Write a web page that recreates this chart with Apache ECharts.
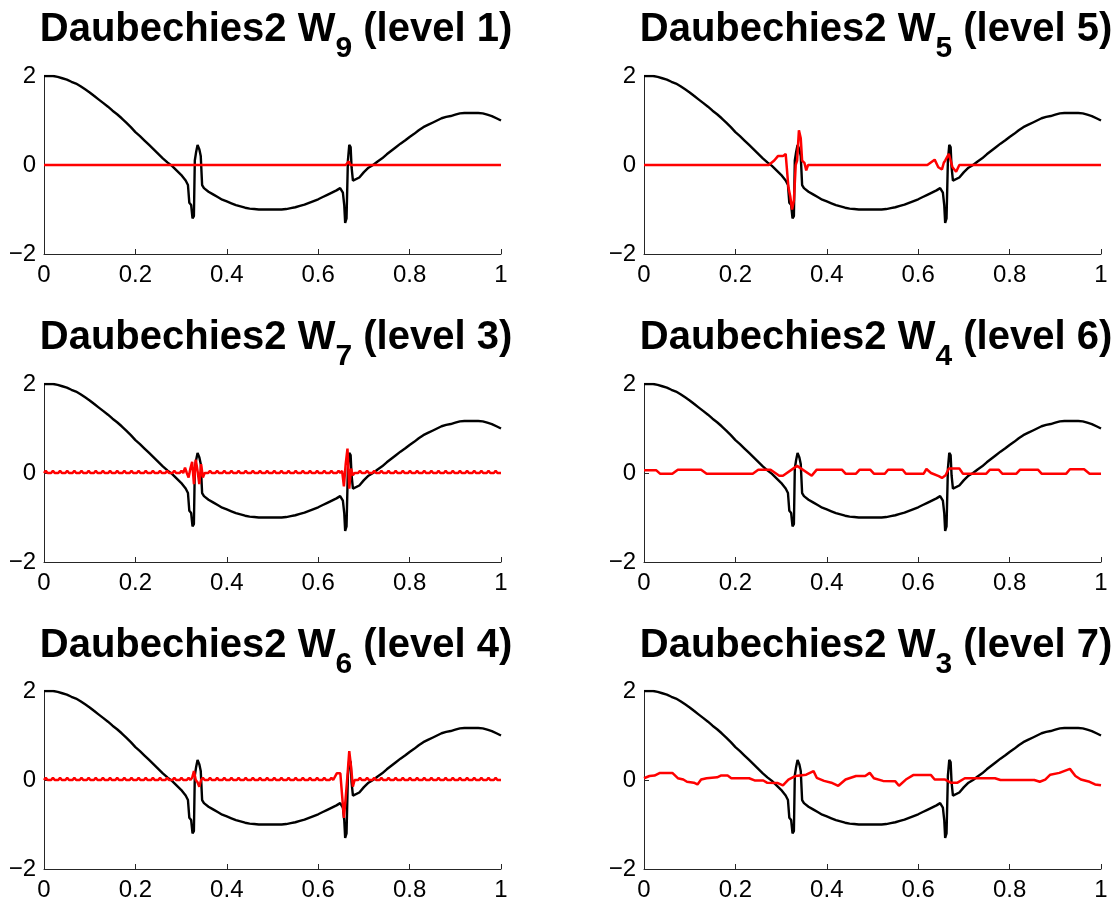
<!DOCTYPE html>
<html>
<head>
<meta charset="utf-8">
<script src="https://cdn.jsdelivr.net/npm/echarts@6/dist/echarts.min.js"></script>
<style>
  html, body { margin: 0; padding: 0; background: #fff; }
  #chart { width: 1120px; height: 905px; }
</style>
</head>
<body>
<div id="chart"></div>
<script>
// Test signal: smooth wave with two jumps near x = 1/3 and x = 2/3, [x, y]
const signal = [
  [0, 2.0], [0.01, 2.0], [0.02, 2.0], [0.03, 1.98], [0.04, 1.95], [0.05, 1.92],
  [0.06, 1.87], [0.07, 1.83], [0.08, 1.77], [0.09, 1.70], [0.10, 1.63], [0.11, 1.55],
  [0.12, 1.47], [0.13, 1.39], [0.14, 1.31], [0.15, 1.22], [0.16, 1.14], [0.17, 1.05],
  [0.18, 0.95], [0.19, 0.85], [0.20, 0.74], [0.21, 0.65], [0.22, 0.55], [0.23, 0.45],
  [0.24, 0.35], [0.25, 0.25], [0.26, 0.15], [0.27, 0.06], [0.28, -0.02], [0.29, -0.12],
  [0.30, -0.22], [0.31, -0.35], [0.315, -0.45], [0.318, -0.85], [0.322, -0.9],
  [0.325, -1.2], [0.328, -1.15], [0.330, 0.1], [0.333, 0.3], [0.336, 0.45],
  [0.340, 0.35], [0.343, 0.2], [0.346, -0.45], [0.35, -0.52], [0.36, -0.6],
  [0.37, -0.66], [0.38, -0.72], [0.39, -0.78], [0.40, -0.82], [0.41, -0.86],
  [0.42, -0.9], [0.43, -0.93], [0.44, -0.96], [0.45, -0.98], [0.46, -0.99],
  [0.47, -1.0], [0.48, -1.0], [0.50, -1.0], [0.52, -1.0], [0.53, -0.99], [0.54, -0.97],
  [0.55, -0.95], [0.56, -0.92], [0.57, -0.89], [0.58, -0.85], [0.59, -0.81],
  [0.60, -0.77], [0.61, -0.72], [0.62, -0.67], [0.63, -0.62], [0.64, -0.57],
  [0.648, -0.52], [0.654, -0.62], [0.657, -0.9], [0.659, -1.3], [0.662, -1.2],
  [0.665, 0.1], [0.668, 0.45], [0.671, 0.4], [0.673, -0.05], [0.676, -0.35],
  [0.68, -0.34], [0.69, -0.28], [0.70, -0.16], [0.71, -0.06], [0.72, 0.0],
  [0.73, 0.08], [0.74, 0.15], [0.75, 0.24], [0.76, 0.32], [0.77, 0.4], [0.78, 0.48],
  [0.79, 0.55], [0.80, 0.63], [0.81, 0.7], [0.82, 0.78], [0.83, 0.85], [0.84, 0.9],
  [0.85, 0.95], [0.86, 1.0], [0.87, 1.05], [0.88, 1.08], [0.89, 1.1], [0.90, 1.13],
  [0.91, 1.16], [0.92, 1.17], [0.93, 1.17], [0.94, 1.17], [0.95, 1.17], [0.96, 1.16],
  [0.97, 1.13], [0.98, 1.1], [0.99, 1.05], [1.00, 1.0]
];

// Detail component W9 (level 1), [x, y]
const w9 = [[0, 0], [0.66, 0], [0.663, -0.04], [0.667, 0.08], [0.67, 0], [1, 0]];

// Detail component W5 (level 5), [x, y]
const w5 = [
  [0, 0], [0.273, 0], [0.285, 0.1], [0.293, 0.2], [0.304, 0.2], [0.31, 0.25],
  [0.316, -0.5], [0.32, -0.7], [0.324, -1.0], [0.328, -0.8], [0.332, 0.0],
  [0.335, 0.1], [0.339, 0.78], [0.343, 0.6], [0.346, 0.1], [0.351, 0.05],
  [0.355, -0.12], [0.359, 0], [0.62, 0], [0.636, 0.12], [0.644, -0.05],
  [0.652, -0.1], [0.656, 0.05], [0.659, 0.1], [0.667, 0.25], [0.671, 0.1],
  [0.675, -0.05], [0.683, -0.15], [0.687, -0.18], [0.69, 0], [1, 0]
];

// Detail component W7 (level 3), one value every 1/256
const w7 = [
  0, 0.05, 0, -0.04, 0, 0.05, 0, -0.04, 0, 0.05, 0, -0.04, 0, 0.05, 0, -0.04,
  0, 0.05, 0, -0.04, 0, 0.05, 0, -0.04, 0, 0.05, 0, -0.04, 0, 0.05, 0, -0.04,
  0, 0.05, 0, -0.04, 0, 0.05, 0, -0.04, 0, 0.05, 0, -0.04, 0, 0.05, 0, -0.04,
  0, 0.05, 0, -0.04, 0, 0.05, 0, -0.04, 0, 0.05, 0, -0.04, 0, 0.05, 0, -0.04,
  0, 0.05, 0, -0.04, 0, 0.05, 0, -0.04, 0, 0.05, 0, -0.04, 0, 0.05, 0, 0.12,
  0, -0.1, 0.1, 0.25, -0.25, 0.3, 0.05, -0.25, 0.2, -0.1, 0, -0.04, 0, 0.05, 0, -0.04,
  0, 0.05, 0, -0.04, 0, 0.05, 0, -0.04, 0, 0.05, 0, -0.04, 0, 0.05, 0, -0.04,
  0, 0.05, 0, -0.04, 0, 0.05, 0, -0.04, 0, 0.05, 0, -0.04, 0, 0.05, 0, -0.04,
  0, 0.05, 0, -0.04, 0, 0.05, 0, -0.04, 0, 0.05, 0, -0.04, 0, 0.05, 0, -0.04,
  0, 0.05, 0, -0.04, 0, 0.05, 0, -0.04, 0, 0.05, 0, -0.04, 0, 0.05, 0, -0.04,
  0, 0.05, 0, -0.04, 0, 0.05, 0, 0.05, -0.3, 0.2, 0.55, -0.35, 0.1, -0.05, 0, -0.04,
  0, 0.05, 0, -0.04, 0, 0.05, 0, -0.04, 0, 0.05, 0, -0.04, 0, 0.05, 0, -0.04,
  0, 0.05, 0, -0.04, 0, 0.05, 0, -0.04, 0, 0.05, 0, -0.04, 0, 0.05, 0, -0.04,
  0, 0.05, 0, -0.04, 0, 0.05, 0, -0.04, 0, 0.05, 0, -0.04, 0, 0.05, 0, -0.04,
  0, 0.05, 0, -0.04, 0, 0.05, 0, -0.04, 0, 0.05, 0, -0.04, 0, 0.05, 0, -0.04,
  0, 0.05, 0, -0.04, 0, 0.05, 0, -0.04, 0, 0.05, 0, -0.04, 0, 0.05, 0, -0.04,
  0
];

// Detail component W4 (level 6), [x, y]
const w4 = [
  [0, 0.06], [0.027, 0.06], [0.035, -0.015], [0.062, -0.015], [0.074, 0.075],
  [0.125, 0.075], [0.137, -0.015], [0.238, -0.015], [0.25, 0.075], [0.277, 0.075],
  [0.296, -0.06], [0.304, -0.06], [0.335, 0.16], [0.367, -0.06], [0.378, 0.075],
  [0.433, 0.075], [0.441, -0.015], [0.464, -0.015], [0.472, 0.075], [0.495, 0.075],
  [0.503, -0.015], [0.527, -0.015], [0.534, 0.075], [0.566, 0.075], [0.573, -0.015],
  [0.612, -0.015], [0.618, 0.09], [0.628, 0.0], [0.645, -0.07], [0.652, -0.11],
  [0.66, -0.05], [0.667, 0.1], [0.69, 0.1], [0.698, -0.015], [0.749, -0.015],
  [0.757, 0.075], [0.776, 0.075], [0.784, -0.015], [0.815, -0.015], [0.823, 0.075],
  [0.862, 0.075], [0.87, -0.015], [0.924, -0.015], [0.932, 0.085], [0.963, 0.085],
  [0.975, -0.015], [1, -0.015]
];

// Detail component W6 (level 4), one value every 1/256
const w6 = [
  0, 0.05, 0, -0.04, 0, 0.05, 0, -0.04, 0, 0.05, 0, -0.04, 0, 0.05, 0, -0.04,
  0, 0.05, 0, -0.04, 0, 0.05, 0, -0.04, 0, 0.05, 0, -0.04, 0, 0.05, 0, -0.04,
  0, 0.05, 0, -0.04, 0, 0.05, 0, -0.04, 0, 0.05, 0, -0.04, 0, 0.05, 0, -0.04,
  0, 0.05, 0, -0.04, 0, 0.05, 0, -0.04, 0, 0.05, 0, -0.04, 0, 0.05, 0, -0.04,
  0, 0.05, 0, -0.04, 0, 0.05, 0, -0.04, 0, 0.05, 0, -0.04, 0, 0.05, 0, -0.04,
  0, 0.05, 0, 0.05, 0.2, 0.0, -0.05, -0.15, 0, 0.05, 0, -0.04, 0, 0.05, 0, -0.04,
  0, 0.05, 0, -0.04, 0, 0.05, 0, -0.04, 0, 0.05, 0, -0.04, 0, 0.05, 0, -0.04,
  0, 0.05, 0, -0.04, 0, 0.05, 0, -0.04, 0, 0.05, 0, -0.04, 0, 0.05, 0, -0.04,
  0, 0.05, 0, -0.04, 0, 0.05, 0, -0.04, 0, 0.05, 0, -0.04, 0, 0.05, 0, -0.04,
  0, 0.05, 0, -0.04, 0, 0.05, 0, -0.04, 0, 0.05, 0, -0.04, 0, 0.05, 0, -0.04,
  0, 0.05, 0, -0.04, 0.15, 0.15, 0.15, 0.15, -0.85, -0.4, 0.1, 0.65, 0.3, -0.15, 0, -0.04,
  0, 0.05, 0, -0.04, 0, 0.05, 0, -0.04, 0, 0.05, 0, -0.04, 0, 0.05, 0, -0.04,
  0, 0.05, 0, -0.04, 0, 0.05, 0, -0.04, 0, 0.05, 0, -0.04, 0, 0.05, 0, -0.04,
  0, 0.05, 0, -0.04, 0, 0.05, 0, -0.04, 0, 0.05, 0, -0.04, 0, 0.05, 0, -0.04,
  0, 0.05, 0, -0.04, 0, 0.05, 0, -0.04, 0, 0.05, 0, -0.04, 0, 0.05, 0, -0.04,
  0, 0.05, 0, -0.04, 0, 0.05, 0, -0.04, 0, 0.05, 0, -0.04, 0, 0.05, 0, -0.04,
  0
];

// Detail component W3 (level 7), [x, y]
const w3 = [
  [0, 0.04], [0.012, 0.09], [0.023, 0.1], [0.035, 0.16], [0.062, 0.16], [0.074, 0.04],
  [0.086, 0.01], [0.094, -0.04], [0.109, -0.06], [0.117, -0.1], [0.125, 0.01],
  [0.137, 0.04], [0.16, 0.06], [0.168, 0.1], [0.183, 0.1], [0.191, 0.04], [0.23, 0.04],
  [0.242, -0.01], [0.261, -0.01], [0.269, -0.06], [0.293, -0.07], [0.304, -0.12],
  [0.316, 0.01], [0.332, 0.09], [0.355, 0.12], [0.371, 0.2], [0.378, 0.05],
  [0.394, -0.02], [0.41, -0.06], [0.425, -0.13], [0.441, 0.01], [0.464, 0.09],
  [0.484, 0.09], [0.494, 0.16], [0.503, 0.04], [0.523, -0.02], [0.55, -0.03],
  [0.558, -0.13], [0.573, 0.01], [0.589, 0.11], [0.628, 0.11], [0.636, 0.01],
  [0.659, 0.01], [0.671, -0.06], [0.686, -0.06], [0.702, 0.04], [0.768, 0.04],
  [0.78, 0.0], [0.854, 0.0], [0.866, -0.04], [0.878, 0.01], [0.889, 0.12],
  [0.909, 0.16], [0.932, 0.25], [0.944, 0.09], [0.956, 0.01], [0.975, -0.04],
  [0.987, -0.1], [1, -0.12]
];

// Axis ticks
const xTicks = { min: 0, max: 1, step: 0.2 };
const yTicks = { min: -2, max: 2, step: 2 };

const onGrid = (vals) => vals.map((v, i) => [i / (vals.length - 1), v]);

// Panel contents: title pieces and the red detail curve
const panels = [
  { sub: '9', level: 1, detail: w9 },
  { sub: '5', level: 5, detail: w5 },
  { sub: '7', level: 3, detail: onGrid(w7) },
  { sub: '4', level: 6, detail: w4 },
  { sub: '6', level: 4, detail: onGrid(w6) },
  { sub: '3', level: 7, detail: w3 }
];

// Page layout (pixels)
const colLeft = [44, 644];
const colWidth = 457;
const rowTop = [76, 384, 691];
const rowHeight = 178;
const titleCenter = [276, 876];
const titleBaseline = [44, 352, 660];
const subDrop = 15;
const mainSize = 40;
const subSize = 30;

const font = '"Liberation Sans", Arial, Helvetica, sans-serif';

// Text widths, used to lay out each title with its subscript
const measureCtx = document.createElement('canvas').getContext('2d');
function textWidth(str, size) {
  measureCtx.font = 'bold ' + size + 'px ' + font;
  return measureCtx.measureText(str).width;
}
// distance from the middle of the em box to the alphabetic baseline
const midToBase = 0.3465;

const chart = echarts.init(document.getElementById('chart'), null, { renderer: 'canvas' });

const grids = [], xAxes = [], yAxes = [], series = [], graphics = [];
panels.forEach((p, i) => {
  const col = i % 2, row = Math.floor(i / 2);
  grids.push({ left: colLeft[col], top: rowTop[row], width: colWidth, height: rowHeight, containLabel: false });
  xAxes.push({
    type: 'value', gridIndex: i, min: xTicks.min, max: xTicks.max, interval: xTicks.step,
    axisLine: { show: true, onZero: false, lineStyle: { color: '#262626', width: 1 } },
    axisTick: { show: true, inside: true, length: 5, lineStyle: { color: '#262626' } },
    splitLine: { show: false },
    axisLabel: { color: '#000', fontSize: 24, fontFamily: font, margin: 9 }
  });
  yAxes.push({
    type: 'value', gridIndex: i, min: yTicks.min, max: yTicks.max, interval: yTicks.step,
    axisLine: { show: true, onZero: false, lineStyle: { color: '#262626', width: 1 } },
    axisTick: { show: true, inside: true, length: 5, lineStyle: { color: '#262626' } },
    splitLine: { show: false },
    axisLabel: {
      color: '#000', fontSize: 24, fontFamily: font, margin: 8,
      formatter: (v) => (v < 0 ? '\u2212' + Math.abs(v) : String(v))
    }
  });
  series.push({
    type: 'line', xAxisIndex: i, yAxisIndex: i, data: signal, symbol: 'none',
    lineStyle: { color: '#000', width: 2.4 }, z: 2, silent: true
  });
  series.push({
    type: 'line', xAxisIndex: i, yAxisIndex: i, data: p.detail, symbol: 'none',
    lineStyle: { color: '#ff0000', width: 2.5 }, z: 3, silent: true
  });

  // Title: "Daubechies2 W" + subscript index + " (level n)"
  const head = 'Daubechies2 W';
  const tail = ' (level ' + p.level + ')';
  const wHead = textWidth(head, mainSize);
  const wSub = textWidth(p.sub, subSize);
  const wTail = textWidth(tail, mainSize);
  const x0 = titleCenter[col] - (wHead + wSub + wTail) / 2;
  const base = titleBaseline[row];
  const mainStyle = { fontSize: mainSize, fontWeight: 'bold', fontFamily: font, fill: '#000', align: 'left', verticalAlign: 'middle' };
  const subStyle = { fontSize: subSize, fontWeight: 'bold', fontFamily: font, fill: '#000', align: 'left', verticalAlign: 'middle' };
  graphics.push({ type: 'text', x: x0, y: base - midToBase * mainSize, style: Object.assign({ text: head }, mainStyle), silent: true });
  graphics.push({ type: 'text', x: x0 + wHead, y: base + subDrop - midToBase * subSize, style: Object.assign({ text: p.sub }, subStyle), silent: true });
  graphics.push({ type: 'text', x: x0 + wHead + wSub, y: base - midToBase * mainSize, style: Object.assign({ text: tail }, mainStyle), silent: true });
});

chart.setOption({
  animation: false,
  backgroundColor: '#fff',
  grid: grids,
  xAxis: xAxes,
  yAxis: yAxes,
  series: series,
  graphic: graphics
});
</script>
</body>
</html>
